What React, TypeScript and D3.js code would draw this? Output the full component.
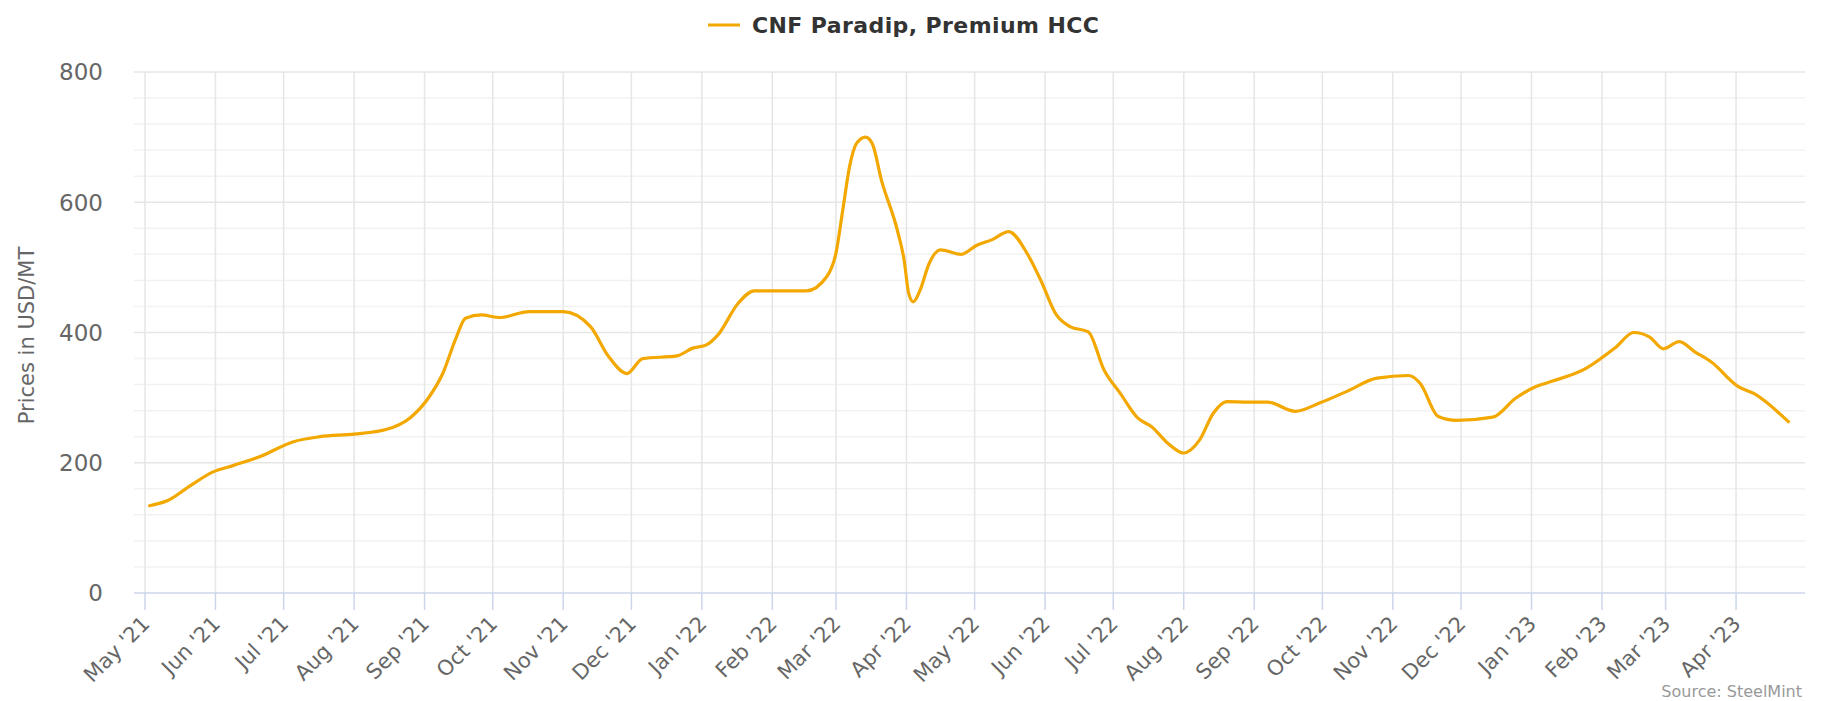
import * as d3 from 'd3';

// CNF Paradip, Premium HCC (USD/MT)
const dates = [
  '2021-05-03', '2021-05-11', '2021-05-21', '2021-05-31', '2021-06-09', '2021-06-21',
  '2021-07-05', '2021-07-17', '2021-08-01', '2021-08-15', '2021-08-26', '2021-09-03',
  '2021-09-09', '2021-09-15', '2021-09-19', '2021-09-26', '2021-10-04', '2021-10-17',
  '2021-11-01', '2021-11-13', '2021-11-21', '2021-11-29', '2021-12-06', '2021-12-21',
  '2021-12-28', '2022-01-03', '2022-01-08', '2022-01-17', '2022-01-24', '2022-02-01',
  '2022-02-16', '2022-02-25', '2022-03-01', '2022-03-04', '2022-03-07', '2022-03-10',
  '2022-03-14', '2022-03-17', '2022-03-21', '2022-03-28', '2022-03-31', '2022-04-02',
  '2022-04-04', '2022-04-07', '2022-04-11', '2022-04-16', '2022-04-25', '2022-05-02',
  '2022-05-09', '2022-05-16', '2022-05-24', '2022-05-30', '2022-06-06', '2022-06-12',
  '2022-06-20', '2022-06-27', '2022-07-04', '2022-07-12', '2022-07-18', '2022-07-25',
  '2022-08-01', '2022-08-08', '2022-08-14', '2022-08-20', '2022-08-29', '2022-09-07',
  '2022-09-19', '2022-09-30', '2022-10-12', '2022-10-25', '2022-11-08', '2022-11-13',
  '2022-11-21', '2022-11-29', '2022-12-15', '2022-12-25', '2023-01-03', '2023-01-10',
  '2023-01-25', '2023-02-07', '2023-02-15', '2023-02-22', '2023-02-28', '2023-03-07',
  '2023-03-14', '2023-03-21', '2023-04-02', '2023-04-09', '2023-04-24',
];
const prices = [
  134, 142, 165, 186, 196, 210,
  232, 240, 244, 251, 270, 301,
  337, 393, 422, 427, 423, 432,
  432, 409, 363, 337, 360, 364,
  376, 381, 396, 445, 464, 464,
  464, 486, 522, 588, 655, 690,
  700, 690, 634, 557, 511, 460,
  447, 465, 506, 527, 520, 534,
  543, 555, 522, 481, 427, 409,
  401, 342, 307, 268, 255, 230,
  215, 235, 276, 294, 293, 293,
  279, 292, 310, 330, 334, 322,
  271, 265, 270, 299, 317, 325,
  345, 377, 400, 393, 375, 386,
  370, 355, 317, 306, 263,
];

const tickLabels = [
  "May '21", "Jun '21", "Jul '21", "Aug '21", "Sep '21", "Oct '21", "Nov '21", "Dec '21",
  "Jan '22", "Feb '22", "Mar '22", "Apr '22", "May '22", "Jun '22", "Jul '22", "Aug '22",
  "Sep '22", "Oct '22", "Nov '22", "Dec '22", "Jan '23", "Feb '23", "Mar '23", "Apr '23",
];
const yTicks = [0, 200, 400, 600, 800];
const yMinorStep = 40;

const seriesName = 'CNF Paradip, Premium HCC';
const yTitle = 'Prices in USD/MT';
const credit = 'Source: SteelMint';

const W = 1824;
const H = 701;
const margin = { top: 72, right: 19, bottom: 108, left: 134 };
const font = '"DejaVu Sans", Verdana, sans-serif';
const lineColor = '#f3a800';

export default function App(): JSX.Element {
  const parse = d3.utcParse('%Y-%m-%d');
  const points = dates.map((d, i) => ({ date: parse(d) as Date, value: prices[i] }));

  const x = d3.scaleUtc()
    .domain([new Date(Date.UTC(2021, 3, 26, 4)), new Date(Date.UTC(2023, 4, 1, 8))])
    .range([margin.left, W - margin.right]);

  const y = d3.scaleLinear()
    .domain([0, 800])
    .range([H - margin.bottom, margin.top]);

  const monthTicks = d3.utcMonth.range(new Date(Date.UTC(2021, 4, 1)), new Date(Date.UTC(2023, 4, 1)));
  const minorTicks = d3.range(0, 801, yMinorStep).filter(v => v % 200 !== 0);

  const line = d3.line<{ date: Date; value: number }>()
    .x(d => x(d.date))
    .y(d => y(d.value))
    .curve(d3.curveMonotoneX);

  const bottom = H - margin.bottom;
  const left = margin.left;
  const right = W - margin.right;

  return (
    <div style={{ position: 'absolute', left: 0, top: 0 }}>
      <svg width={W} height={H} style={{ display: 'block', background: '#fff' }} fontFamily={font}>
        {/* minor horizontal grid */}
        {minorTicks.map(t => (
          <line key={'m' + t} x1={left} x2={right} y1={y(t)} y2={y(t)} stroke="#f2f2f2" strokeWidth={1.5} />
        ))}
        {/* major horizontal grid */}
        {yTicks.filter(t => t !== 0).map(t => (
          <line key={'g' + t} x1={left} x2={right} y1={y(t)} y2={y(t)} stroke="#e6e6e6" strokeWidth={1.5} />
        ))}
        {/* vertical grid */}
        {monthTicks.map((t, i) => (
          <line key={'v' + i} x1={x(t)} x2={x(t)} y1={margin.top} y2={bottom} stroke="#e6e6e6" strokeWidth={1.5} />
        ))}

        {/* x axis */}
        <line x1={left} x2={right} y1={bottom} y2={bottom} stroke="#ccd6eb" strokeWidth={1.5} />
        {monthTicks.map((t, i) => (
          <g key={'xt' + i} transform={`translate(${x(t)},${bottom})`}>
            <line y2={17} stroke="#ccd6eb" strokeWidth={1.5} />
            <text
              transform="translate(6,32) rotate(-45)"
              textAnchor="end"
              fontSize={21}
              fill="#666666"
            >
              {tickLabels[i]}
            </text>
          </g>
        ))}

        {/* y axis labels */}
        {yTicks.map(t => (
          <text key={'yl' + t} x={103} y={y(t)} dy="0.36em" textAnchor="end" fontSize={23} fill="#666666">
            {t}
          </text>
        ))}
        <text
          transform={`translate(34,${(margin.top + bottom) / 2 + 3}) rotate(-90)`}
          textAnchor="middle"
          fontSize={21}
          fill="#666666"
        >
          {yTitle}
        </text>

        {/* series */}
        <path d={line(points) || ''} fill="none" stroke={lineColor} strokeWidth={3.2} strokeLinejoin="round" strokeLinecap="round" />

        {/* legend */}
        <line x1={708} x2={740} y1={25} y2={25} stroke={lineColor} strokeWidth={3} />
        <text x={752} y={33} fontSize={22} fontWeight="bold" fill="#333333" letterSpacing={0.4}>{seriesName}</text>

        {/* credits */}
        <text x={1802} y={697} textAnchor="end" fontSize={16} fill="#999999">{credit}</text>
      </svg>
    </div>
  );
}
